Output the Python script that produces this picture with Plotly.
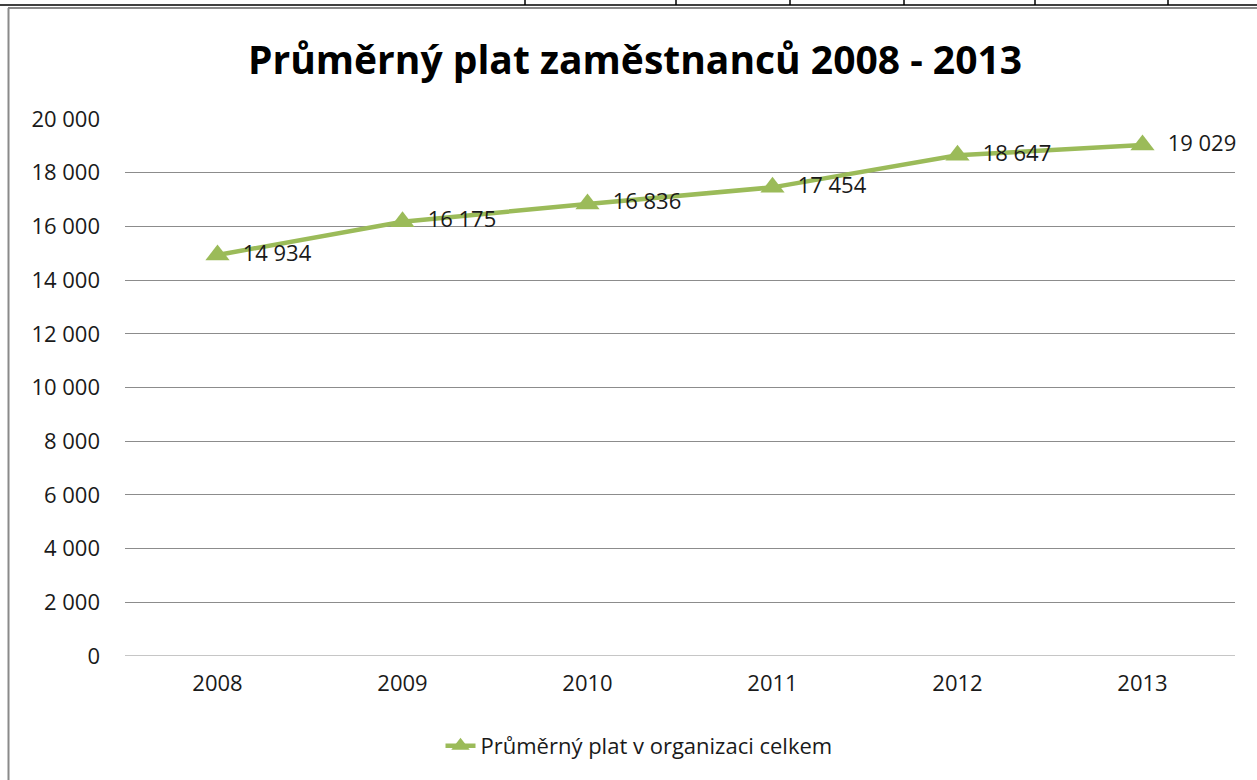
import plotly.graph_objects as go

years = ["2008", "2009", "2010", "2011", "2012", "2013"]
salary = [14934, 16175, 16836, 17454, 18647, 19029]
labels = ["14 934", "16 175", "16 836", "17 454", "18 647", "19 029"]
series_name = "Průměrný plat v organizaci celkem"
title_text = "Průměrný plat zaměstnanců 2008 - 2013"
y_ticks = list(range(0, 20001, 2000))

W, H = 1257, 780
L, R, T, B = 125, 22, 119, 124
pw, ph = W - L - R, H - T - B

def px(x):
    return (x - L) / pw

def py(y):
    return (H - B - y) / ph

green = "#9BBB59"
font = "'Open Sans', Lato, sans-serif"
txt = "#1a1a1a"

fig = go.Figure()
fig.add_trace(go.Scatter(
    x=years, y=salary, mode="lines+markers+text", name=series_name,
    line=dict(color=green, width=4.5),
    marker=dict(symbol="triangle-up", size=21, color=green),
    text=["\u2002" + s for s in labels], textposition="middle right",
    textfont=dict(size=22, color=txt, family=font),
    cliponaxis=False,
    hoverinfo="skip",
))

shapes = []
shapes.append(dict(type="line", xref="paper", yref="paper", x0=px(8.5), x1=px(8.5), y0=py(8), y1=py(790),
                   line=dict(color="#8a8a8a", width=2)))
shapes.append(dict(type="line", xref="paper", yref="paper", x0=px(8), x1=px(1260), y0=py(8), y1=py(8),
                   line=dict(color="#8a8a8a", width=2)))
shapes.append(dict(type="line", xref="paper", yref="paper", x0=px(0), x1=px(1260), y0=py(5), y1=py(5),
                   line=dict(color="#000000", width=1.5)))
for xv in [525, 676, 790, 904, 1035, 1168]:
    shapes.append(dict(type="line", xref="paper", yref="paper", x0=px(xv), x1=px(xv), y0=py(-2), y1=py(5),
                       line=dict(color="#000000", width=1.5)))

fig.update_layout(
    width=W, height=H,
    margin=dict(l=L, r=R, t=T, b=B),
    paper_bgcolor="white", plot_bgcolor="white",
    separators=", ",
    title=dict(text="<b>" + title_text + "</b>", x=px(635), xanchor="center", xref="paper",
               y=1 - 60 / H, yanchor="middle",
               font=dict(size=39, color="#000000", family=font)),
    showlegend=True,
    legend=dict(orientation="h", x=px(639), xanchor="center", y=py(746), yanchor="middle",
                font=dict(size=22, color=txt, family=font)),
    xaxis=dict(type="category", range=[-0.5, 5.5], showgrid=False, showline=False, ticks="", zeroline=False,
               tickfont=dict(size=22, color=txt, family=font), ticklabelstandoff=12),
    yaxis=dict(range=[0, 20000], tickvals=y_ticks, tickformat=",d", showgrid=True,
               gridcolor="#8c8c8c", gridwidth=1, zeroline=False, showline=False, ticks="",
               tickfont=dict(size=22, color=txt, family=font), ticklabelstandoff=24),
    shapes=shapes,
)
fig.add_shape(type="line", xref="paper", yref="y", x0=0, x1=1, y0=0, y1=0,
              line=dict(color="#8c8c8c", width=1), layer="below")

fig.write_html("out.html", config={"displayModeBar": False},
               post_script="document.body.style.margin='0';document.body.style.overflow='hidden';")
